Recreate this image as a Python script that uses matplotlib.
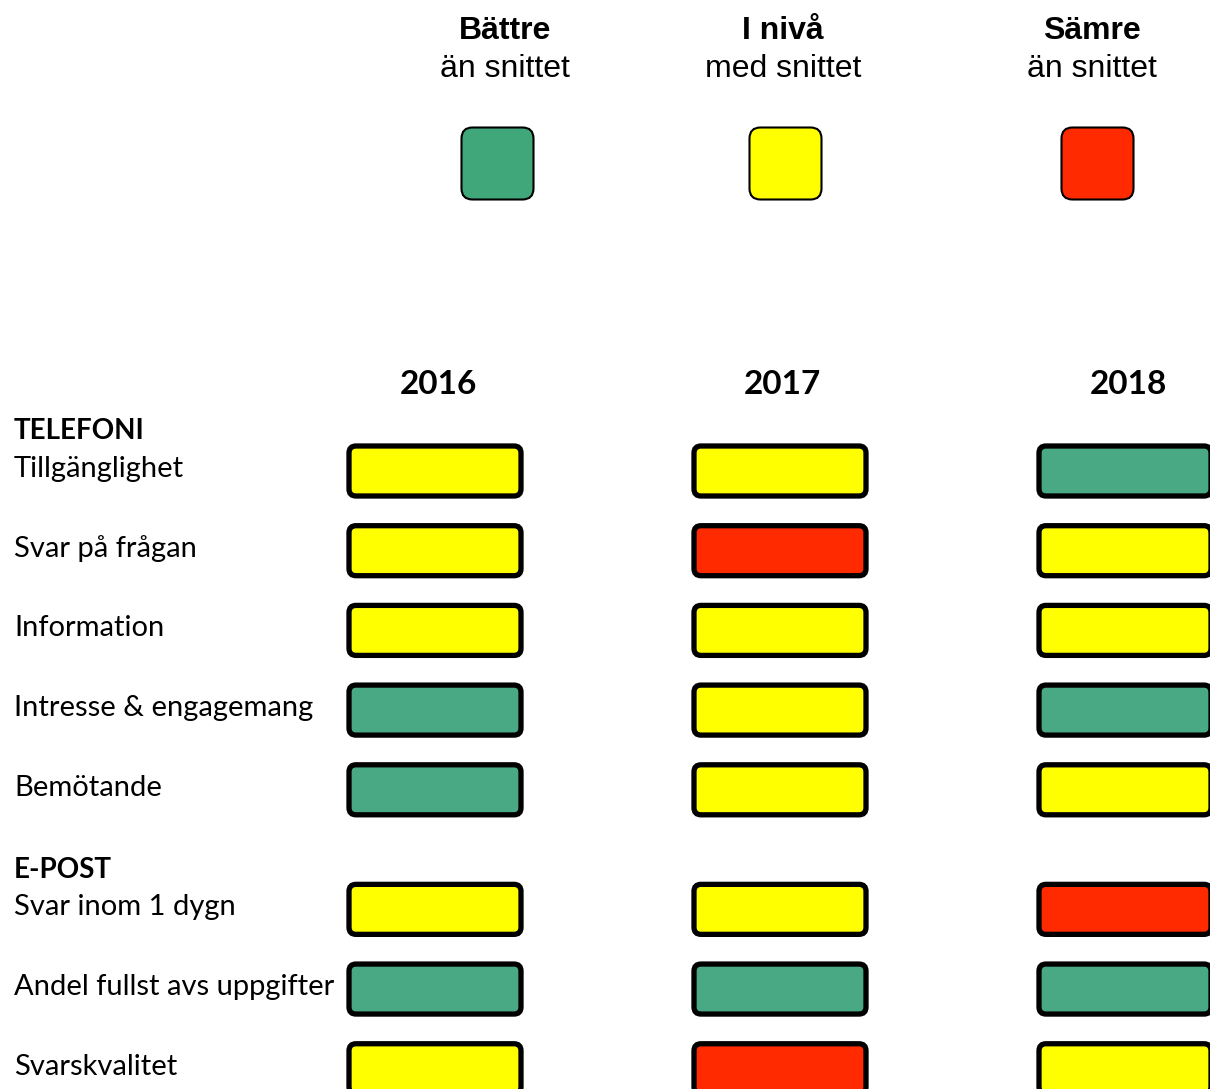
import matplotlib.pyplot as plt
from matplotlib.patches import FancyBboxPatch

# colour ratings: 'b' = bättre, 'n' = i nivå, 's' = sämre
years = ['2016', '2017', '2018']
groups = ['TELEFONI', 'E-POST']
telefoni_rows = ['Tillgänglighet', 'Svar på frågan', 'Information',
                 'Intresse & engagemang', 'Bemötande']
telefoni_ratings = [['n', 'n', 'b'],
                    ['n', 's', 'n'],
                    ['n', 'n', 'n'],
                    ['b', 'n', 'b'],
                    ['b', 'n', 'n']]
epost_rows = ['Svar inom 1 dygn', 'Andel fullst avs uppgifter', 'Svarskvalitet']
epost_ratings = [['n', 'n', 's'],
                 ['b', 'b', 'b'],
                 ['n', 's', 'n']]
legend_keys = ['b', 'n', 's']
legend_titles = ['Bättre', 'I nivå', 'Sämre']
legend_subs = ['än snittet', 'med snittet', 'än snittet']

box_colors = {'b': '#4aa985', 'n': '#ffff00', 's': '#ff2a00'}
legend_colors = {'b': '#40a77b', 'n': '#ffff00', 's': '#ff2a00'}

LABEL_FONT = ['Lato', 'DejaVu Sans']
LEGEND_FONT = ['Liberation Sans', 'DejaVu Sans']

# layout in pixels
W, H = 1210, 1089
col_x0, col_dx = 435, 345
row_y0, row_dy = 471, 79.7
box_w, box_h = 172, 50

fig = plt.figure(figsize=(W / 100, H / 100), dpi=100)
ax = fig.add_axes([0, 0, 1, 1])
ax.set_xlim(0, W)
ax.set_ylim(H, 0)
ax.axis('off')

# legend
legend_x = [497.5, 785.5, 1097.5]
legend_text_x = [505, 783, 1092]
for i, key in enumerate(legend_keys):
    s = 72
    ax.add_patch(FancyBboxPatch((legend_x[i] - s / 2, 163.5 - s / 2), s, s,
                                boxstyle='round,pad=0,rounding_size=11',
                                fc=legend_colors[key], ec='black', lw=1.5))
    ax.text(legend_text_x[i], 31, legend_titles[i], ha='center', va='center',
            fontsize=23, fontweight='bold', family=LEGEND_FONT)
    ax.text(legend_text_x[i], 69, legend_subs[i], ha='center', va='center',
            fontsize=23, family=LEGEND_FONT)

# year headers
year_x = [438, 782, 1128]
for i, y in enumerate(years):
    ax.text(year_x[i], 385, y, ha='center', va='center', fontsize=24,
            fontweight='bold', family=LABEL_FONT)


def draw_rows(labels, ratings, start):
    for r, (lab, rat) in enumerate(zip(labels, ratings)):
        yc = row_y0 + (start + r) * row_dy
        ax.text(14, yc - 2, lab, ha='left', va='center', fontsize=21,
                family=LABEL_FONT)
        for c, key in enumerate(rat):
            xc = col_x0 + c * col_dx
            ax.add_patch(FancyBboxPatch((xc - box_w / 2, yc - box_h / 2),
                                        box_w, box_h,
                                        boxstyle='round,pad=0,rounding_size=7',
                                        fc=box_colors[key], ec='black',
                                        lw=3.8, clip_on=True))


ax.text(14, row_y0 - 0.55 * row_dy + 4, groups[0], ha='left', va='center',
        fontsize=20, fontweight='bold', family=LABEL_FONT)
draw_rows(telefoni_rows, telefoni_ratings, 0)
ax.text(14, row_y0 + 4.95 * row_dy + 4, groups[1], ha='left', va='center',
        fontsize=20, fontweight='bold', family=LABEL_FONT)
draw_rows(epost_rows, epost_ratings, 5.5)

fig.savefig('out.png', dpi=100)
